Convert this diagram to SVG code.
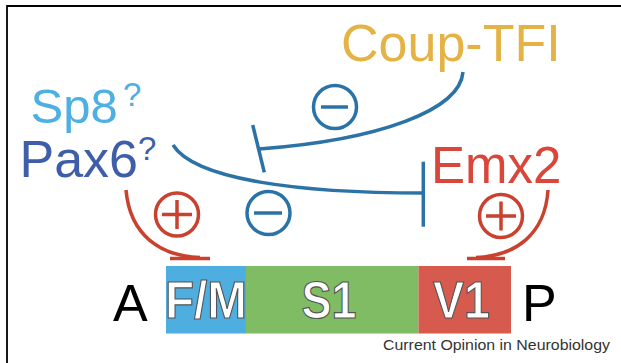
<svg xmlns="http://www.w3.org/2000/svg" width="621" height="363" viewBox="0 0 621 363">
<style>
.lbl{font-family:"Liberation Sans",Arial,sans-serif}
.blue{stroke:#2B72A6;fill:none;stroke-width:3.5}
.red{stroke:#C9412F;fill:none;stroke-width:3.5}
.bar{font-family:"Liberation Sans",Arial,sans-serif;font-weight:bold;font-size:51px;fill:#fff;stroke:#555;stroke-width:1.2;text-anchor:middle}
</style>
<rect width="621" height="363" fill="#fff"/>
<path d="M7,363 V6 H621" fill="none" stroke="#000" stroke-width="1.8"/>

<g id="coup-tfi"><text class="lbl" x="341" y="61" font-size="52" fill="#E5B345">Coup-TFI</text></g>
<g id="sp8"><text class="lbl" x="30.5" y="123" font-size="49" fill="#4DAFE2">Sp8</text><text class="lbl" x="123" y="106" font-size="33" fill="#4DAFE2">?</text></g>
<g id="pax6"><text class="lbl" x="19.5" y="177" font-size="52" fill="#3F5EA9">Pax6</text><text class="lbl" x="138" y="160" font-size="33" fill="#3F5EA9">?</text></g>
<g id="emx2"><text class="lbl" x="431" y="182.5" font-size="51" fill="#D8473A">Emx2</text></g>

<g id="connectors">
  <path class="blue" d="M463,72 C460,110 380,140 259,149"/>
  <path class="blue" d="M252.7,125 L264.3,172.3"/>
  <path class="blue" d="M173,145 C195,180 300,193 423,193"/>
  <path class="blue" d="M423.3,161.7 V226.7"/>
  <path class="red" d="M126,190 C130,235 160,256 200,257.5"/>
  <path class="red" d="M170,258.5 H210" stroke-width="4"/>
  <path class="red" d="M548,190 C545,235 515,256 476,257.5"/>
  <path class="red" d="M467,258.5 H505" stroke-width="4"/>
</g>

<g id="minus-coup"><circle class="blue" cx="335" cy="107" r="21.5"/><path class="blue" d="M321,107 H348" stroke-width="4"/></g>
<g id="minus-pax6"><circle class="blue" cx="268.5" cy="213" r="21.5"/><path class="blue" d="M254,213 H282" stroke-width="4"/></g>
<g id="plus-left"><circle class="red" cx="177" cy="214.5" r="21.5"/><path class="red" d="M162,214.5 H192 M177,200 V229" stroke-width="4"/></g>
<g id="plus-right"><circle class="red" cx="501" cy="216" r="21.5"/><path class="red" d="M486,216 H516 M501,201.5 V230.5" stroke-width="4"/></g>

<g id="cortex">
  <rect x="166" y="266" width="80" height="67.5" fill="#4FAEE0"/>
  <rect x="246" y="266" width="172.5" height="67.5" fill="#80BC63"/>
  <rect x="418.5" y="266" width="92.5" height="67.5" fill="#D65A4E"/>
  <text class="bar" x="206" y="318.3" textLength="82" lengthAdjust="spacingAndGlyphs">F/M</text>
  <text class="bar" x="329" y="318.3" textLength="55" lengthAdjust="spacingAndGlyphs">S1</text>
  <text class="bar" x="461.5" y="318.3" textLength="57" lengthAdjust="spacingAndGlyphs">V1</text>
</g>
<g id="axis-a"><text class="lbl" x="113" y="320.5" font-size="52" fill="#000">A</text></g>
<g id="axis-p"><text class="lbl" x="522" y="320.5" font-size="52" fill="#000">P</text></g>
<text class="lbl" x="383" y="350" font-size="15" fill="#333" textLength="227" lengthAdjust="spacingAndGlyphs">Current Opinion in Neurobiology</text>
</svg>
